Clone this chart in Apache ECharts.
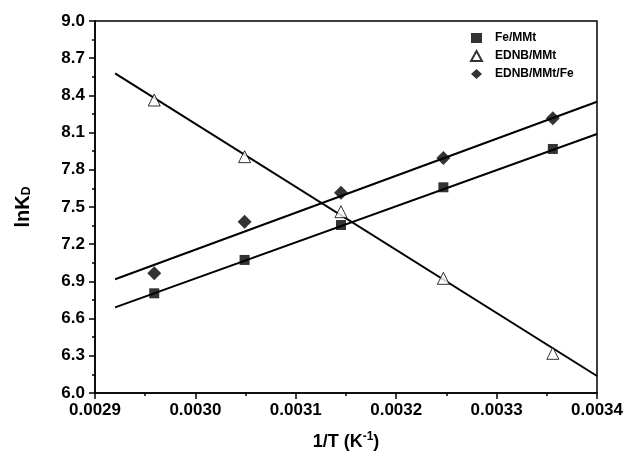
<!DOCTYPE html>
<html>
<head>
<meta charset="utf-8">
<script src="https://cdn.jsdelivr.net/npm/echarts@6/dist/echarts.min.js"></script>
<style>html,body{margin:0;padding:0;background:#fff}#c{width:628px;height:460px}</style>
</head>
<body>
<div id="c"></div>
<script>
// 1/T values (K^-1)
var invT = [0.002959, 0.003049, 0.003145, 0.003247, 0.003356];
// lnKD values
var feMMt = [6.804, 7.073, 7.355, 7.659, 7.968];
var ednbMMt = [8.363, 7.906, 7.462, 6.925, 6.320];
var ednbMMtFe = [6.965, 7.381, 7.615, 7.895, 8.215];
// fitted line endpoints
var fitX = [0.00292, 0.00340];
var fitFe = [6.691, 8.089];
var fitEdnb = [8.578, 6.137];
var fitEdnbFe = [6.917, 8.349];
var names = ['Fe/MMt', 'EDNB/MMt', 'EDNB/MMt/Fe'];

function pairs(xs, ys) { return xs.map(function (x, i) { return [x, ys[i]]; }); }

var chart = echarts.init(document.getElementById('c'), null, {renderer: 'canvas'});
var font = 'Liberation Sans, Arial, sans-serif';
var lineStyle = {color: '#000', width: 2};
var fitSeries = function (ys) {
  return {type: 'line', data: pairs(fitX, ys), symbol: 'none', lineStyle: lineStyle, silent: true, z: 2};
};
chart.setOption({
  animation: false,
  backgroundColor: '#fff',
  grid: {left: 95, right: 31, top: 21, bottom: 67, show: true, borderColor: '#000', borderWidth: 1.5, backgroundColor: 'transparent'},
  legend: {
    orient: 'vertical', left: 465, top: 27, itemGap: 6, itemWidth: 11, itemHeight: 10,
    data: names,
    textStyle: {fontFamily: font, fontWeight: 'bold', fontSize: 12, color: '#000', padding: [0, 0, 0, 8]}
  },
  xAxis: {
    type: 'value', min: 0.0029, max: 0.0034, interval: 0.0001,
    name: '{a|1/T (K}{s|-1}{a|)}', nameLocation: 'middle', nameGap: 38,
    nameTextStyle: {rich: {
      a: {fontFamily: font, fontWeight: 'bold', fontSize: 18, color: '#000'},
      s: {fontFamily: font, fontWeight: 'bold', fontSize: 12, color: '#000', verticalAlign: 'top', padding: [0, 0, 10, 0]}
    }},
    axisLine: {lineStyle: {color: '#000', width: 1.5}},
    axisTick: {length: 6, lineStyle: {color: '#000', width: 1.5}},
    minorTick: {show: true, splitNumber: 2, length: 3, lineStyle: {color: '#000', width: 1.5}},
    splitLine: {show: false},
    axisLabel: {fontFamily: font, fontWeight: 'bold', fontSize: 17, color: '#000', margin: 9,
      formatter: function (v) { return v.toFixed(4); }}
  },
  yAxis: {
    type: 'value', min: 6, max: 9, interval: 0.3,
    name: '{a|lnK}{s|D}', nameLocation: 'middle', nameGap: 62, nameRotate: 90,
    nameTextStyle: {rich: {
      a: {fontFamily: font, fontWeight: 'bold', fontSize: 20, color: '#000'},
      s: {fontFamily: font, fontWeight: 'bold', fontSize: 12, color: '#000', verticalAlign: 'bottom', padding: [8, 0, 0, 0]}
    }},
    axisLine: {lineStyle: {color: '#000', width: 1.5}},
    axisTick: {length: 6, lineStyle: {color: '#000', width: 1.5}},
    minorTick: {show: true, splitNumber: 2, length: 3, lineStyle: {color: '#000', width: 1.5}},
    splitLine: {show: false},
    axisLabel: {fontFamily: font, fontWeight: 'bold', fontSize: 17, color: '#000', margin: 10,
      formatter: function (v) { return v.toFixed(1); }}
  },
  series: [
    fitSeries(fitFe), fitSeries(fitEdnb), fitSeries(fitEdnbFe),
    {name: names[0], type: 'scatter', data: pairs(invT, feMMt), symbol: 'rect', symbolSize: 10,
      itemStyle: {color: '#000'}, z: 3},
    {name: names[1], type: 'scatter', data: pairs(invT, ednbMMt), symbol: 'triangle', symbolSize: 12,
      itemStyle: {color: '#fff', borderColor: '#000', borderWidth: 1}, z: 3},
    {name: names[2], type: 'scatter', data: pairs(invT, ednbMMtFe), symbol: 'diamond', symbolSize: 14,
      itemStyle: {color: '#000'}, z: 3}
  ]
});
</script>
</body>
</html>
